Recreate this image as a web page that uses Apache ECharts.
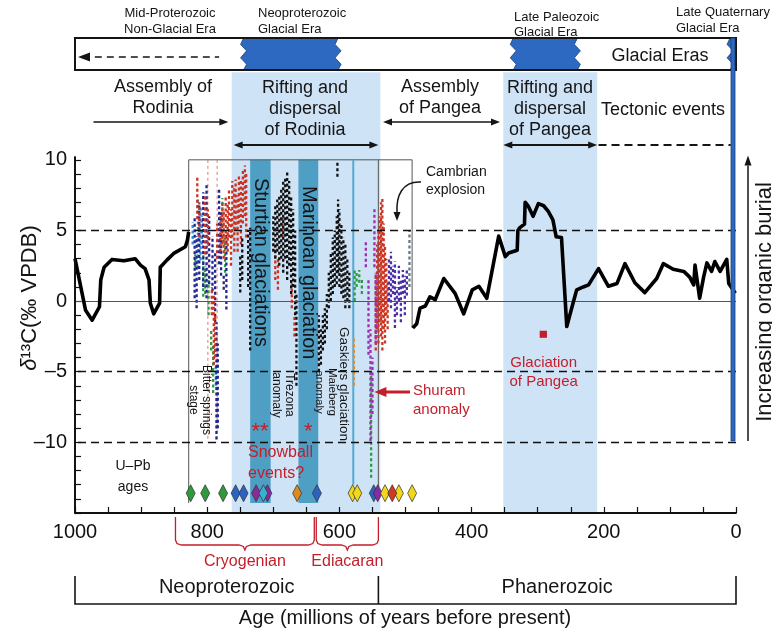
<!DOCTYPE html>
<html>
<head>
<meta charset="utf-8">
<script src="https://cdn.jsdelivr.net/npm/echarts@6/dist/echarts.min.js"></script>
<style>
  html, body { margin: 0; padding: 0; background: #ffffff; }
  #chart { width: 772px; height: 631px; }
</style>
</head>
<body>
<div id="chart"></div>
<script>
// Carbon-isotope record of the last billion years with tectonic and glacial context.

// ---- axes ----
const ageLabels = [1000, 800, 600, 400, 200, 0];
const ageTicks = [1000, 950, 900, 850, 800, 750, 700, 650, 600, 550, 500, 450, 400, 350, 300, 250, 200, 150, 100, 50, 0];
const d13cLabels = [-10, -5, 0, 5, 10];
const d13cTicks = [-15, -14, -13, -12, -11, -10, -9, -8, -7, -6, -5, -4, -3, -2, -1, 0, 1, 2, 3, 4, 5, 6, 7, 8, 9, 10];
const refLevels = [5, -5, -10];

// ---- long-term δ13C curve (Ma, ‰) ----
const curveEarly = [
  [1000, 3.0], [984, -0.65], [974, -1.35], [963, -0.4], [961, 1.5], [956, 2.4], [944, 2.95],
  [926, 2.85], [909, 3.0], [901, 2.55], [894, 2.3], [888, 1.5], [886, -0.15], [881, -0.9],
  [872, -0.15], [871, 2.4], [861, 2.9], [850, 3.4], [833, 3.85], [830, 4.3], [828, 4.9]
];
const curveLate = [
  [489, -1.9], [483, -1.6], [478, -0.5], [470, -0.35], [463, 0.3], [455, 0.1], [442, 1.6],
  [425, 0.55], [412, -0.9], [399, 0.8], [389, 1.05], [377, 0.2], [359, 4.6], [349, 3.15],
  [344, 3.4], [331, 3.6], [330, 5.0], [327, 5.2], [320, 5.45], [319, 7.0], [314, 6.7],
  [307, 6.0], [299, 6.9], [291, 6.75], [284, 6.35], [277, 5.75], [272, 4.55], [264, 4.5],
  [256, -1.8], [248, -0.4], [241, 0.8], [231, 1.0], [223, 1.15], [208, 2.3], [193, 1.05],
  [180, 1.25], [168, 2.65], [153, 1.3], [138, 0.6], [120, 1.6], [110, 2.65], [95, 2.25],
  [79, 2.1], [70, 1.7], [64, 1.15], [62, 2.55], [55, 0.2], [49, 1.7], [44, 2.7], [37, 2.1],
  [32, 2.8], [24, 2.1], [14, 2.95], [11, 1.25], [1, 0.55]
];

// ---- Neoproterozoic–Cambrian section data: [age Ma, low ‰, high ‰] ----
const sectNavy = [
  [819, 0.2, 5.9], [816, -0.5, 4.6], [812, 1.5, 6.8], [806, 1.0, 7.7], [801, 0.2, 8.2],
  [797, 1.2, 6.0], [792, 0.7, 4.6], [788, -1.5, 3.5], [786, -9.8, -1.5], [784, -9.0, -3.0],
  [782, 2.6, 8.0], [779, 1.8, 6.4], [775, 0.8, 1.8], [771, -0.6, 4.8]
];
const sectBlue = [
  [822, 4.0, 5.6], [814, 2.3, 7.3], [810, 2.9, 6.7], [808, 4.0, 6.0], [787, -6.0, -4.5]
];
const sectGreen = [
  [818, 2.4, 3.3], [806, 0.3, 3.3], [803, 0.5, 2.5], [798, -1.0, 1.5], [794, -3.5, -2.0],
  [791, -6.5, -3.0], [777, 4.1, 7.3], [773, 2.0, 4.5],
  [577, 0.0, 2.3], [574, 1.0, 2.0], [570, 1.3, 2.2], [566, 0.5, 1.5], [552, -12.5, -5.0]
];
const sectRed = [
  [815, 5.8, 8.8], [812, 4.5, 7.0], [803, 3.3, 7.6], [799, 4.0, 6.5], [793, -1.0, 1.0],
  [790, -4.5, 0.5], [788, -4.0, -1.0], [785, 3.0, 5.5], [780, 3.5, 6.0], [777, 4.0, 7.0],
  [775, 3.0, 6.5], [772, 4.0, 7.5], [769, 3.5, 7.0], [767, 4.5, 8.0], [764, 2.5, 6.5],
  [762, 4.5, 8.5], [759, 3.5, 8.0], [757, 5.0, 8.6], [754, 3.5, 7.5], [752, 5.5, 9.0],
  [749, 4.0, 8.5], [746, 5.5, 9.3], [743, 6.0, 9.6], [741, 4.5, 9.0],
  [697, 1.5, 4.0], [693, 0.8, 3.0], [686, 4.5, 6.0], [672, -0.5, 1.5], [668, -2.5, -1.0],
  [545, -3.5, 2.0], [543, -2.0, 4.0], [541, -3.0, 5.0], [539, -1.5, 6.0], [537, -2.5, 7.0],
  [535, -3.5, 7.4], [533, -2.0, 5.5], [531, -3.0, 4.0], [529, -1.0, 3.0], [527, -2.0, 1.5]
];
const sectBlack = [
  [750, 0.6, 3.3], [747, 1.5, 4.5], [738, 1.0, 5.0], [735, -3.5, 5.2],
  [700, 3.5, 6.0], [697, 3.0, 6.8], [694, 3.5, 7.2], [691, 2.5, 7.5], [688, 3.0, 8.0],
  [685, 2.0, 8.5], [682, 3.0, 8.8], [679, 1.5, 9.2], [676, 2.5, 8.5], [673, 0.5, 7.5],
  [670, 1.0, 6.5], [667, -1.0, 5.0], [665, -6.0, 0.5],
  [631, -5.0, -1.0], [628, -4.5, -2.0], [625, -3.5, -1.0], [622, -3.0, -0.5], [619, -2.0, 0.5],
  [616, -0.5, 2.0], [613, 0.0, 3.5], [610, 0.5, 4.5], [607, 1.0, 5.0], [604, 1.2, 6.0],
  [603, 8.8, 9.9], [602, 2.0, 7.2], [600, 1.0, 6.5], [597, 0.5, 5.5], [594, 0.2, 4.5],
  [591, -0.5, 4.0], [588, 0.0, 3.0], [585, -0.5, 2.0]
];
const sectOrange = [[578, -6.0, -2.5]];
const sectPurple = [
  [560, 2.4, 4.3], [556, -3.8, 1.5], [553, -9.9, -2.0], [550, -8.0, -4.0], [547, 2.4, 6.5], [545, -3.0, 2.0]
];
const sectIndigo = [
  [525, 0.0, 3.0], [522, -0.5, 3.5], [519, 0.5, 2.5], [516, -1.9, 2.8], [513, -1.0, 1.0],
  [510, 0.0, 2.5], [507, -1.5, 1.5], [504, 0.5, 2.2], [501, -1.0, 1.8], [498, 0.4, 2.3]
];
const sectGrey = [[494, 1.0, 5.0]];

// ---- U–Pb ages (Ma) grouped by section colour ----
const upbGreen = [825, 803, 776];
const upbBlue = [757, 745, 634, 548];
const upbPurple = [726, 709, 542];
const upbTeal = [715];
const upbOrange = [664];
const upbYellow = [580, 573, 531, 510, 490];
const upbRed = [520];
const upbRow = -13.6;

// ---- intervals (Ma) ----
const riftBands = [[763, 538], [352, 210]];        // Rodinia and Pangea dispersal
const snowballBands = [[735, 704], [662, 632]];    // Sturtian, Marinoan
const snowballSpan = [10, -14.3];
const glacialEras = [[745, 602], [337, 240], [9, 0]];
const sectionFrame = [[828, -14.3], [828, 10], [490, 10], [490, -1.9]];
const gaskiersLine = [[579, 10], [579, -13.0]];
const cambrianLine = [[541, 10], [541, -13.2]];
const bitterSpringsA = [[799, 10], [799, -10]];
const bitterSpringsB = [[785, 10], [785, -10]];
const pangeaGlaciation = [[297, 286, -2.1, -2.6]];

const FONT = "'Liberation Sans', Arial, Helvetica, sans-serif";
const Y_MIN = -15, Y_MAX = 10.2;
const BAND_TOP = 16.2;   // rift bands reach up to the glacial-era strip

const chart = echarts.init(document.getElementById('chart'));

function sectionSeries(data, color, z) {
  return {
    type: 'custom', data: data, z: z || 4, silent: true, clip: false,
    encode: { x: 0, y: [1, 2] },
    renderItem: function (params, api) {
      const a = api.coord([api.value(0), api.value(1)]);
      const b = api.coord([api.value(0), api.value(2)]);
      return {
        type: 'line',
        shape: { x1: a[0], y1: a[1], x2: b[0], y2: b[1] },
        style: { stroke: color, lineWidth: 2.3, lineDash: [3, 2.5] }
      };
    }
  };
}

function upbSeries(ages, color) {
  return {
    type: 'scatter', z: 6, silent: true,
    data: ages.map(function (a) { return [a, upbRow]; }),
    symbol: 'diamond', symbolSize: [9, 17],
    itemStyle: { color: color, borderColor: '#333', borderWidth: 0.7, opacity: 1 }
  };
}

function plainLine(data, color, width, dash, z) {
  return {
    type: 'line', data: data, z: z || 3, silent: true, clip: false,
    symbol: 'none', animation: false,
    lineStyle: { color: color, width: width, type: dash || 'solid' }
  };
}

const option = {
  animation: false,
  backgroundColor: '#ffffff',
  grid: { left: 75, right: 36, top: 157, bottom: 118 },
  xAxis: {
    type: 'value', min: 0, max: 1000, inverse: true,
    axisLine: { show: true, onZero: false, lineStyle: { color: '#111', width: 1.8 } },
    axisTick: { show: true, inside: true, length: 6, customValues: ageTicks, lineStyle: { color: '#111', width: 1.2 } },
    axisLabel: {
      customValues: ageLabels, fontSize: 20, color: '#111', fontFamily: FONT, margin: 9,
      formatter: function (v) { return String(v); }
    },
    splitLine: { show: false }
  },
  yAxis: {
    type: 'value', min: Y_MIN, max: Y_MAX, position: 'left',
    axisLine: { show: true, onZero: false, lineStyle: { color: '#111', width: 1.8 } },
    axisTick: { show: true, inside: true, length: 6, customValues: d13cTicks, lineStyle: { color: '#111', width: 1.2 } },
    axisLabel: {
      customValues: d13cLabels, fontSize: 20, color: '#111', fontFamily: FONT, margin: 8,
      formatter: function (v) { return v < 0 ? '\u2013' + Math.abs(v) : String(v); }
    },
    splitLine: { show: false }
  },
  series: [
    {
      type: 'custom', data: riftBands, z: 0, silent: true, clip: false,
      encode: { x: [0, 1] },
      renderItem: function (params, api) {
        const a = api.coord([api.value(0), BAND_TOP]);
        const b = api.coord([api.value(1), Y_MIN]);
        return { type: 'rect', shape: { x: a[0], y: a[1], width: b[0] - a[0], height: b[1] - a[1] }, style: { fill: '#cfe3f7' } };
      }
    },
    {
      type: 'custom', data: snowballBands, z: 1, silent: true,
      encode: { x: [0, 1] },
      renderItem: function (params, api) {
        const a = api.coord([api.value(0), snowballSpan[0]]);
        const b = api.coord([api.value(1), snowballSpan[1]]);
        return { type: 'rect', shape: { x: a[0], y: a[1], width: b[0] - a[0], height: b[1] - a[1] }, style: { fill: '#4f9fc5' } };
      }
    },
    Object.assign(plainLine(sectionFrame, '#555', 1, 'solid', 2), {
      markLine: {
        silent: true, symbol: 'none', label: { show: false },
        data: refLevels.map(function (v) {
          return { yAxis: v, lineStyle: { color: '#111', width: 1.3, type: [8, 5] } };
        }).concat([{ yAxis: 0, lineStyle: { color: '#555', width: 1, type: 'solid' } }])
      }
    }),
    plainLine([[1000, Y_MIN], [1000, Y_MAX]], '#111', 1.8, 'solid', 10),
    plainLine(gaskiersLine, '#55a9d2', 2, 'solid', 2),
    plainLine(cambrianLine, '#6b6b6b', 1.2, 'solid', 2),
    plainLine(bitterSpringsA, '#e07a6a', 1, [3, 3], 2),
    plainLine(bitterSpringsB, '#e07a6a', 1, [3, 3], 2),
    sectionSeries(sectGreen, '#2e9a45'),
    sectionSeries(sectBlue, '#3190cf'),
    sectionSeries(sectNavy, '#1f2690'),
    sectionSeries(sectRed, '#cc3320'),
    sectionSeries(sectBlack, '#111111'),
    sectionSeries(sectOrange, '#e58d1f'),
    sectionSeries(sectPurple, '#9a30b0'),
    sectionSeries(sectIndigo, '#4b2fa6'),
    sectionSeries(sectGrey, '#66788a'),
    {
      type: 'line', data: curveEarly, z: 5, silent: true, symbol: 'none',
      lineStyle: { color: '#000', width: 3.6, join: 'round' }
    },
    {
      type: 'line', data: curveLate, z: 5, silent: true, symbol: 'none',
      lineStyle: { color: '#000', width: 3.6, join: 'round' }
    },
    {
      type: 'custom', data: pangeaGlaciation, z: 5, silent: true,
      encode: { x: [0, 1], y: [2, 3] },
      renderItem: function (params, api) {
        const a = api.coord([api.value(0), api.value(2)]);
        const b = api.coord([api.value(1), api.value(3)]);
        return { type: 'rect', shape: { x: a[0], y: a[1], width: b[0] - a[0], height: b[1] - a[1] }, style: { fill: '#c41e2a' } };
      }
    },
    upbSeries(upbGreen, '#2f9a3c'),
    upbSeries(upbBlue, '#2a64c0'),
    upbSeries(upbPurple, '#8a2aa0'),
    upbSeries(upbTeal, '#38b0d0'),
    upbSeries(upbOrange, '#e08a1e'),
    upbSeries(upbYellow, '#f2d71a'),
    upbSeries(upbRed, '#d03a20')
  ]
};

chart.setOption(option);

// ---- annotations ----
const X = function (age) { return chart.convertToPixel({ xAxisIndex: 0 }, age); };
const Y = function (v) { return chart.convertToPixel({ yAxisIndex: 0 }, v); };
const RED = '#c41e2a';
const INK = '#151515';

function text(x, y, s, size, opts) {
  opts = opts || {};
  return {
    type: 'text', x: x, y: y, z: 100, silent: true,
    rotation: opts.rotation || 0,
    style: {
      text: s, fill: opts.color || INK, fontSize: size, fontFamily: FONT,
      fontStyle: opts.italic ? 'italic' : 'normal',
      align: opts.align || 'center', verticalAlign: opts.valign || 'middle',
      textAlign: opts.align || 'center', textVerticalAlign: opts.valign || 'middle',
      lineHeight: opts.lineHeight || Math.round(size * 1.15),
      rich: opts.rich
    }
  };
}
function seg(x1, y1, x2, y2, color, width, dash) {
  return {
    type: 'line', z: 90, silent: true,
    shape: { x1: x1, y1: y1, x2: x2, y2: y2 },
    style: { stroke: color || INK, lineWidth: width || 1.5, lineDash: dash || null }
  };
}
function head(x, y, dx, dy, color, len, half) {
  len = len || 9; half = half || 3.5;
  const bx = x - dx * len, by = y - dy * len;
  return {
    type: 'polygon', z: 91, silent: true,
    shape: { points: [[x, y], [bx - dy * half, by + dx * half], [bx + dy * half, by - dx * half]] },
    style: { fill: color || INK }
  };
}
function hArrow(xa, xb, y, both, width) {
  const els = [seg(xa + (both ? 6 : 0), y, xb - 6, y, INK, width || 1.6)];
  els.push(head(xb, y, 1, 0));
  if (both) els.push(head(xa, y, -1, 0));
  return els;
}
function zigzagBlock(xl, xr, top, bot, zigLeft, zigRight) {
  const pts = [];
  const h = bot - top;
  pts.push([xl, top], [xr, top]);
  if (zigRight) {
    pts.push([xr - 3, top + h * 0.2], [xr + 3, top + h * 0.4], [xr - 3, top + h * 0.62], [xr + 3, top + h * 0.82]);
  }
  pts.push([xr, bot], [xl, bot]);
  if (zigLeft) {
    pts.push([xl + 3, top + h * 0.82], [xl - 3, top + h * 0.62], [xl + 3, top + h * 0.4], [xl - 3, top + h * 0.2]);
  }
  return {
    type: 'polygon', z: 80, silent: true,
    shape: { points: pts },
    style: { fill: '#2d69c0', stroke: '#1b3f7a', lineWidth: 0.8 }
  };
}

const xL = X(1000), xR = X(0);
const boxTop = 38, boxBot = 70;
const g = [];

// glacial era strip
glacialEras.forEach(function (e, i) {
  const last = i === glacialEras.length - 1;
  g.push(zigzagBlock(X(e[0]), X(e[1]), boxTop, boxBot, true, !last));
});
g.push({ type: 'rect', z: 85, silent: true, shape: { x: xL, y: boxTop, width: xR - xL, height: boxBot - boxTop }, style: { fill: 'none', stroke: INK, lineWidth: 2 } });
g.push(seg(X(970), 57, X(782), 57, INK, 1.6, [7, 5]));
g.push(head(X(1000) + 3, 57, -1, 0, INK, 12, 4.5));
g.push(text(660, 56, 'Glacial Eras', 18));
g.push(text(170, 21, 'Mid-Proterozoic\nNon-Glacial Era', 13, { lineHeight: 16 }));
g.push(text(258, 21, 'Neoproterozoic\nGlacial Era', 13, { align: 'left', lineHeight: 16 }));
g.push(text(514, 25, 'Late Paleozoic\nGlacial Era', 13, { align: 'left', lineHeight: 15 }));
g.push(text(676, 20, 'Late Quaternary\nGlacial Era', 13, { align: 'left', lineHeight: 16 }));

// Late Quaternary glacial bar running down the right edge
g.push({ type: 'rect', z: 86, silent: true, shape: { x: X(0) - 5, y: boxTop, width: 4, height: Y(-9.9) - boxTop }, style: { fill: '#2d69c0', stroke: '#1b3f7a', lineWidth: 0.8 } });

// tectonic events
g.push(text(163, 98, 'Assembly of\nRodinia', 18, { lineHeight: 21 }));
g.push(text(305, 109, 'Rifting and\ndispersal\nof Rodinia', 18, { lineHeight: 21 }));
g.push(text(440, 98, 'Assembly\nof Pangea', 18, { lineHeight: 21 }));
g.push(text(550, 109, 'Rifting and\ndispersal\nof Pangea', 18, { lineHeight: 21 }));
g.push(text(663, 110, 'Tectonic events', 18));
Array.prototype.push.apply(g, hArrow(X(972), X(768), 122, false));
Array.prototype.push.apply(g, hArrow(X(760), X(541), 145, true, 2));
Array.prototype.push.apply(g, hArrow(X(534), X(357), 122, true));
Array.prototype.push.apply(g, hArrow(X(352), X(210), 145, true, 2));
g.push(seg(X(208), 145, X(8), 145, INK, 1.8, [8, 5]));

// y-axis title
g.push(text(30, 298, '{i|δ}{n|¹³C(‰ VPDB)}', 22, {
  rotation: Math.PI / 2,
  rich: { i: { fontStyle: 'italic', fontSize: 22, fontFamily: FONT, fill: INK }, n: { fontSize: 22, fontFamily: FONT, fill: INK } }
}));

// organic burial arrow
g.push(seg(748, Y(-9.9), 748, Y(9.6), INK, 1.5));
g.push(head(748, Y(10.3), 0, -1, INK, 10, 3.5));
g.push(text(765, 302, 'Increasing organic burial', 22, { rotation: Math.PI / 2 }));

// section labels
g.push(text(X(720), 178, 'Sturtian glaciations', 20, { rotation: -Math.PI / 2, align: 'left' }));
g.push(text(X(647), 186, 'Marinoan glaciation', 20, { rotation: -Math.PI / 2, align: 'left' }));
g.push(text(200, 400, 'Bitter springs\nstage', 12, { rotation: -Math.PI / 2, lineHeight: 13 }));
g.push(text(283, 395, 'Trezona\nanomaly', 12, { rotation: -Math.PI / 2, lineHeight: 13 }));
g.push(text(326, 392, 'Maieberg\nanomaly', 11.5, { rotation: -Math.PI / 2, lineHeight: 13 }));
g.push(text(344, 327, 'Gaskiers glaciation', 13.5, { rotation: -Math.PI / 2, align: 'left' }));
g.push(text(X(720), 432, '**', 22, { color: RED }));
g.push(text(X(647), 432, '*', 22, { color: RED }));
g.push(text(248, 463, 'Snowball\nevents?', 16, { color: RED, align: 'left', lineHeight: 21 }));
g.push(text(133, 477, 'U\u2013Pb\nages', 14, { lineHeight: 21 }));
g.push(text(426, 181, 'Cambrian\nexplosion', 14, { align: 'left', lineHeight: 18 }));
g.push({
  type: 'bezierCurve', z: 90, silent: true,
  shape: { x1: 421, y1: 182, cpx1: 402, cpy1: 181, cpx2: 396, cpy2: 196, x2: 397, y2: 213 },
  style: { stroke: INK, lineWidth: 1.5, fill: 'none' }
});
g.push(head(397, 221, 0, 1, INK, 9, 3.5));
g.push(text(413, 400, 'Shuram\nanomaly', 15, { color: RED, align: 'left', lineHeight: 19 }));
g.push(seg(410, 392, X(536), 392, RED, 3));
g.push(head(X(547), 392, -1, 0, RED, 12, 5));
g.push(text(X(291), 372, 'Glaciation\nof Pangea', 15, { color: RED, lineHeight: 19 }));

// geological time brackets
function brace(xa, xb, yTopB, yBot) {
  const m = (xa + xb) / 2;
  return {
    type: 'polyline', z: 90, silent: true,
    shape: {
      points: [
        [xa, yTopB], [xa, yBot - 5], [xa + 1.5, yBot - 1.5], [xa + 6, yBot],
        [m - 6, yBot], [m - 1.5, yBot + 1.5], [m, yBot + 5], [m + 1.5, yBot + 1.5], [m + 6, yBot],
        [xb - 6, yBot], [xb - 1.5, yBot - 1.5], [xb, yBot - 5], [xb, yTopB]
      ]
    },
    style: { stroke: RED, lineWidth: 1.3, fill: 'none' }
  };
}
g.push(brace(X(848), X(638), 517, 545));
g.push(brace(X(635), X(541), 517, 545));
g.push(text((X(848) + X(638)) / 2, 562, 'Cryogenian', 16, { color: RED }));
g.push(text((X(635) + X(541)) / 2, 562, 'Ediacaran', 16, { color: RED }));
g.push({
  type: 'polyline', z: 90, silent: true,
  shape: { points: [[xL, 576], [xL, 604], [xR, 604], [xR, 576]] },
  style: { stroke: INK, lineWidth: 1.6, fill: 'none' }
});
g.push(seg(X(541), 576, X(541), 604, INK, 1.6));
g.push(text((xL + X(541)) / 2, 587, 'Neoproterozoic', 20));
g.push(text((X(541) + xR) / 2, 587, 'Phanerozoic', 20));
g.push(text(405, 618, 'Age (millions of years before present)', 20));

chart.setOption({ graphic: { elements: g } });
</script>
</body>
</html>
